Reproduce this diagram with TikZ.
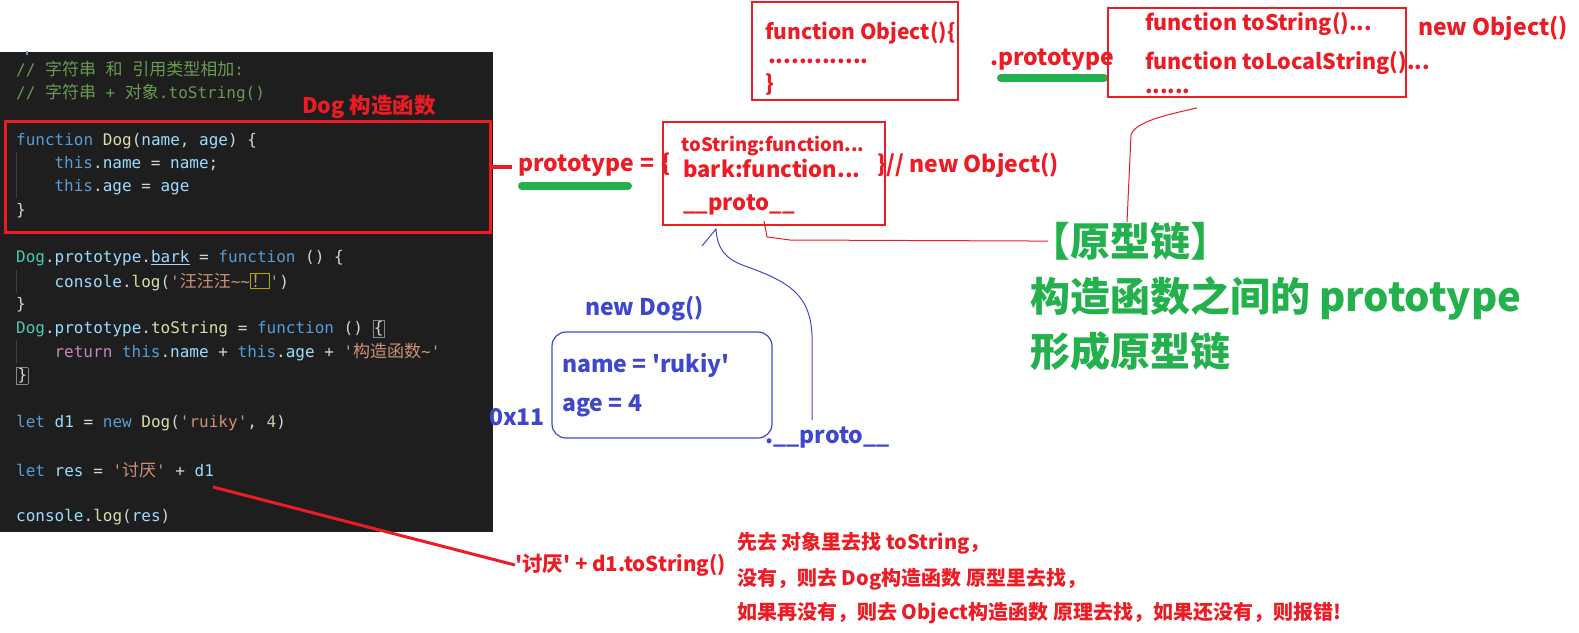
\documentclass[tikz,border=0pt]{standalone}
\usepackage{fontspec}
\setmonofont{DejaVu Sans Mono}
\newfontfamily\cjk{Noto Sans CJK SC}
\definecolor{codebg}{HTML}{1E1E1E}
\definecolor{cmc}{HTML}{6A9955}
\definecolor{kwc}{HTML}{569CD6}
\definecolor{fnc}{HTML}{DCDCAA}
\definecolor{varc}{HTML}{9CDCFE}
\definecolor{strc}{HTML}{CE9178}
\definecolor{clsc}{HTML}{4EC9B0}
\definecolor{numc}{HTML}{B5CEA8}
\definecolor{retc}{HTML}{C586C0}
\definecolor{punc}{HTML}{D4D4D4}
\definecolor{guidec}{HTML}{404040}
\definecolor{bmc}{HTML}{888888}
\definecolor{warnc}{HTML}{B8A800}
\definecolor{myred}{HTML}{ED1C24}
\definecolor{myblue}{HTML}{3F48CC}
\definecolor{mygreen}{HTML}{22B14C}
\newcommand\ZH[1]{{\cjk\fontsize{17}{19}\selectfont #1}}
\newcommand\ckw[1]{\textcolor{kwc}{#1}}
\newcommand\cfn[1]{\textcolor{fnc}{#1}}
\newcommand\cvar[1]{\textcolor{varc}{#1}}
\newcommand\cstr[1]{\textcolor{strc}{#1}}
\newcommand\ccls[1]{\textcolor{clsc}{#1}}
\newcommand\cnum[1]{\textcolor{numc}{#1}}
\newcommand\cret[1]{\textcolor{retc}{#1}}
\newcommand\sq{\textquotesingle}
\newcommand\fs[1]{\fontsize{#1}{#1}\selectfont}
\setlength\fboxsep{0.5pt}
\setlength\fboxrule{0.8pt}
\tikzset{
  code/.style={font=\ttfamily\fontsize{16}{19}\selectfont, inner sep=0pt, anchor=west, text=punc},
  ann/.style={font=\cjk\bfseries\fontsize{22}{26}\selectfont, inner sep=0pt, anchor=west, text=myred},
  bann/.style={ann, text=myblue},
  gann/.style={ann, text=mygreen, font=\cjk\bfseries\fontsize{40}{44}\selectfont},
  redbox/.style={draw=myred, line width=1.2pt, inner sep=0pt},
  redthin/.style={draw=myred, line width=1pt},
  bluethin/.style={draw=myblue, line width=1pt},
  greenbar/.style={draw=mygreen, line width=8pt, line cap=round},
}
\begin{document}
\begin{tikzpicture}[x=1pt,y=-1pt]
\useasboundingbox (0,0) rectangle (1579,632);
% code panel
\node[fill=codebg, inner sep=0pt, minimum width=493pt, minimum height=480pt, anchor=north west] (panel) at (0,52) {};
\fill[kwc] (26,51) rectangle (28,55);
% indent guides
\draw[guidec, line width=1pt] (16,152) -- (16,198);
\draw[guidec, line width=1pt] (16,270) -- (16,293);
\draw[guidec, line width=1pt] (16,340) -- (16,363);
\node[code] (l1) at (16,69) {\textcolor{cmc}{// \ZH{字符串} \ZH{和} \ZH{引用类型相加}:}};
\node[code] (l2) at (16,93) {\textcolor{cmc}{// \ZH{字符串} + \ZH{对象}.toString()}};
\node[code] (l3) at (16,141) {\ckw{function} \cfn{Dog}(\cvar{name}, \cvar{age}) \{};
\node[code] (l4) at (54.4,164) {\ckw{this}.\cvar{name} = \cvar{name};};
\node[code] (l5) at (54.4,187) {\ckw{this}.\cvar{age} = \cvar{age}};
\node[code] (l6) at (16,211) {\}};
\node[code] (l7) at (16,258) {\ccls{Dog}.\cvar{prototype}.\cvar{\underline{bark}} = \ckw{function} () \{};
\node[code] (l8) at (54.4,282) {\cvar{console}.\cfn{log}(\cstr{\sq\ZH{汪汪汪}\textasciitilde\textasciitilde\fcolorbox{warnc}{codebg}{\ZH{！}}\sq})};
\node[code] (l9) at (16,305) {\}};
\node[code] (l10) at (16,329) {\ccls{Dog}.\cvar{prototype}.\cfn{toString} = \ckw{function} () \fcolorbox{bmc}{codebg}{\{}};
\node[code] (l11) at (54.4,352) {\cret{return} \ckw{this}.\cvar{name} + \ckw{this}.\cvar{age} + \cstr{\sq\ZH{构造函数}\textasciitilde\sq}};
\node[code] (l12) at (16,376) {\fcolorbox{bmc}{codebg}{\}}};
\node[code] (l13) at (16,423) {\ckw{let} \cvar{d1} = \ckw{new} \cfn{Dog}(\cstr{\sq ruiky\sq}, \cnum{4})};
\node[code] (l14) at (16,470) {\ckw{let} \cvar{res} = \cstr{\sq\ZH{讨厌}\sq} + \cvar{d1}};
\node[code] (l15) at (16,517) {\cvar{console}.\cfn{log}(\cvar{res})};
% Dog constructor box
\node[ann, font=\cjk\bfseries\fs{21.5}] (dogT) at (302,107) {Dog 构造函数};
\node[draw=myred, line width=3pt, minimum width=485pt, minimum height=111pt, inner sep=0pt] (dogbox) at (247.5,176.5) {};
% prototype object
\node[ann, font=\cjk\bfseries\fs{23}] (protoEq) at (518,165) {prototype\hspace{6pt}=\hspace{7pt}\{};
\coordinate (rl) at (512,167);
\draw[myred, line width=4pt] (dogbox.east |- rl) -- (rl);
\draw[greenbar] (522,186) -- (628,186);
\node[redbox, minimum width=222pt, minimum height=103pt] (protobox) at (774,173.5) {};
\node[ann, anchor=center, font=\cjk\bfseries\fs{18.5}] (tsF) at (773,146) {toString:function...};
\node[ann, anchor=center] (barkF) at (772,169) {bark:function...};
\node[ann, font=\cjk\bfseries\fs{23}] (closeB) at (877,165) {\}// new Object()};
\node[ann] (protoU) at (683,205) {\_\_proto\_\_};
% Object constructor
\node[redbox, minimum width=206pt, minimum height=98pt] (objbox) at (855,51) {};
\node[ann, font=\cjk\bfseries\fs{21}] (objL1) at (765,33) {function Object()\{};
\node[ann] (objL2) at (768,61) {.............};
\node[ann] (objL3) at (765,85) {\}};
\node[ann, font=\cjk\bfseries\fs{23}] (dotproto) at (990,60) {.prototype};
\draw[greenbar] (1001,78) -- (1104,78);
\node[redbox, minimum width=298pt, minimum height=89pt] (fnbox) at (1257,52.5) {};
\node[ann, font=\cjk\bfseries\fs{21.5}] (fnL1) at (1145,24) {function toString()...};
\node[ann, font=\cjk\bfseries\fs{21.5}] (fnL2) at (1145,63) {function toLocalString()...};
\node[ann, font=\cjk\bfseries\fs{21.5}] (fnL3) at (1145,91) {......};
\node[ann, font=\cjk\bfseries\fs{23}] (newObj) at (1418,28) {new Object()};
% instance
\node[bann, font=\cjk\bfseries\fs{23}] (newDog) at (585,309) {new Dog()};
\node[draw=myblue, line width=1.2pt, rounded corners=14pt, minimum width=220pt, minimum height=106pt, inner sep=0pt] (inst) at (662,385) {};
\node[bann, font=\cjk\bfseries\fs{23}] (nameL) at (562,365) {name = \sq rukiy\sq};
\node[bann, font=\cjk\bfseries\fs{23}] (ageL) at (562,406) {age = 4};
\node[bann, font=\cjk\bfseries\fs{23}] (addr) at (489,417) {0x11};
\node[bann, font=\cjk\bfseries\fs{23}] (bproto) at (765,438) {.\_\_proto\_\_};
% blue proto link
\coordinate (bstart) at (812,420);
\coordinate (btip) at (716,229);
\draw[bluethin] (bstart) -- (812,335) .. controls (810,295) and (790,282) .. (745,266) .. controls (722,258) and (717,245) .. (btip) -- (702,246);
% green title
\node[gann] (g1) at (1030,241) {【原型链】};
\node[gann] (g2) at (1030,298) {构造函数之间的 prototype};
\node[gann] (g3) at (1030,351) {形成原型链};
% red chain links
\coordinate (pu) at (764,221);
\draw[redthin] (pu) -- (767,237) -- (790,240) -- (g1.west |- 0,241) -- ++(18,0);
\coordinate (fb) at (1197,108);
\draw[redthin] (fb) .. controls (1165,115) and (1135,122) .. (1131,135) -- (1127,222);
% d1 to toString call
\node[ann, font=\cjk\bfseries\fs{20.5}] (tsCall) at (515,565) {\sq 讨厌\sq{} + d1.toString()};
\coordinate (d1p) at (213,487);
\draw[myred, line width=3pt] (d1p) -- (tsCall.west);
\node[ann, font=\cjk\bfseries\fs{20}] (e1) at (737,543) {先去 对象里去找 toString，};
\node[ann, font=\cjk\bfseries\fs{20}] (e2) at (737,579) {没有，则去 Dog构造函数 原型里去找，};
\node[ann, font=\cjk\bfseries\fs{20}] (e3) at (737,613) {如果再没有，则去 Object构造函数 原理去找，如果还没有，则报错!};
\end{tikzpicture}
\end{document}
